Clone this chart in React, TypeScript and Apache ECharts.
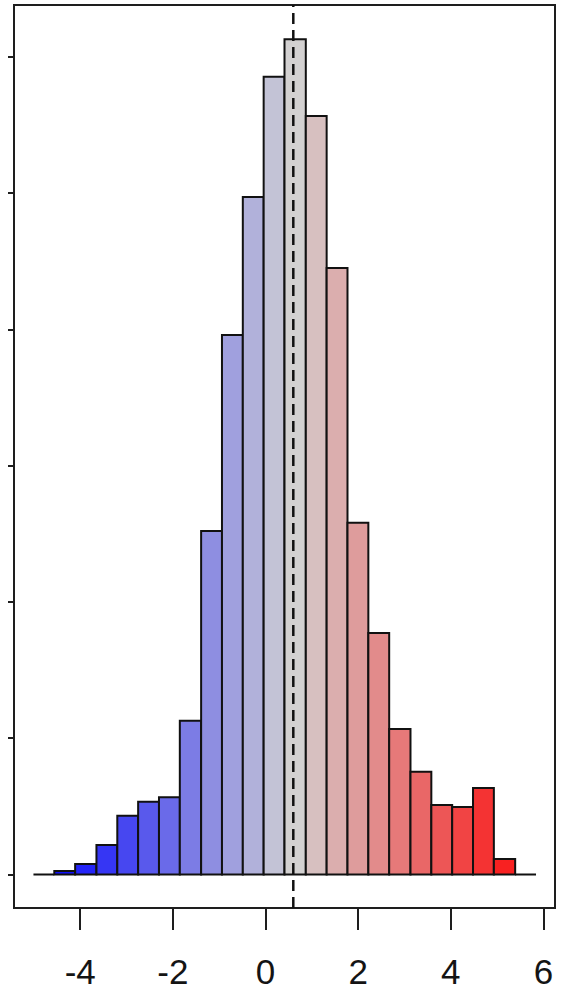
import React, { useEffect, useRef } from "react";
import * as echarts from "echarts";

// Histogram bin edges (x units)
const binEdges = [
  -5.01, -4.56, -4.11, -3.65, -3.2, -2.75, -2.3, -1.85, -1.39, -0.94, -0.49, -0.04,
  0.41, 0.87, 1.32, 1.77, 2.22, 2.67, 3.13, 3.58, 4.03, 4.48, 4.93, 5.39, 5.84,
];
// Bar heights (in y tick units)
const binHeights = [
  0, 0.026, 0.077, 0.216, 0.431, 0.534, 0.566, 1.128, 2.52, 3.958, 4.971, 5.853,
  6.128, 5.565, 4.45, 2.581, 1.772, 1.067, 0.754, 0.51, 0.495, 0.635, 0.114, 0,
];
const meanValue = 0.6;
const xTickValues = [-4, -2, 0, 2, 4, 6];
const yTickValues = [0, 1, 2, 3, 4, 5, 6];

const X_MIN = -5.43;
const X_MAX = 6.25;
const Y_MIN = -0.246;
const Y_MAX = 6.38;

function rampColor(mid: number): string {
  let t = (mid - meanValue) / 5.4;
  if (t > 1) t = 1;
  if (t < -1) t = -1;
  const grey = [211, 211, 211];
  const target = t < 0 ? [0, 0, 255] : [255, 0, 0];
  const a = Math.abs(t);
  const c = grey.map((g, i) => Math.round(g + (target[i] - g) * a));
  return `rgb(${c[0]},${c[1]},${c[2]})`;
}

export default function App() {
  const ref = useRef<HTMLDivElement>(null);
  useEffect(() => {
    if (!ref.current) return;
    const chart = echarts.init(ref.current, undefined, { renderer: "svg" });
    const data = binHeights.map((h, i) => [binEdges[i], binEdges[i + 1], h]);
    const font = "'Liberation Sans', Arial, Helvetica, sans-serif";
    chart.setOption({
      animation: false,
      backgroundColor: "#ffffff",
      grid: {
        left: 14,
        right: 9,
        top: 5,
        bottom: 87,
        show: true,
        borderColor: "#1e1e1e",
        borderWidth: 2,
        backgroundColor: "transparent",
      },
      xAxis: {
        type: "value",
        min: X_MIN,
        max: X_MAX,
        position: "bottom",
        splitLine: { show: false },
        axisLine: { show: true, onZero: false, lineStyle: { color: "#1e1e1e", width: 2 } },
        axisTick: {
          show: true,
          customValues: xTickValues,
          length: 22,
          inside: false,
          lineStyle: { color: "#1e1e1e", width: 2 },
        },
        axisLabel: {
          show: true,
          customValues: xTickValues,
          fontSize: 35,
          margin: 46,
          color: "#141414",
          fontFamily: font,
          formatter: (v: number) => (v < 0 ? "-" + Math.abs(v) : String(v)),
        },
      },
      yAxis: {
        type: "value",
        min: Y_MIN,
        max: Y_MAX,
        splitLine: { show: false },
        axisLine: { show: true, onZero: false, lineStyle: { color: "#1e1e1e", width: 2 } },
        axisTick: {
          show: true,
          customValues: yTickValues,
          length: 6,
          inside: false,
          lineStyle: { color: "#1e1e1e", width: 2 },
        },
        axisLabel: { show: false },
      },
      series: [
        {
          type: "custom",
          data,
          encode: { x: [0, 1], y: 2 },
          renderItem: (params: any, api: any) => {
            const x0 = api.value(0);
            const x1 = api.value(1);
            const h = api.value(2);
            const p1 = api.coord([x0, 0]);
            const p2 = api.coord([x0, h]);
            const p3 = api.coord([x1, h]);
            const p4 = api.coord([x1, 0]);
            return {
              type: "polygon",
              shape: { points: [p1, p2, p3, p4] },
              style: {
                fill: rampColor((x0 + x1) / 2),
                stroke: "#111",
                lineWidth: 2,
              },
            };
          },
        },
        {
          type: "line",
          data: [
            [meanValue, Y_MIN],
            [meanValue, Y_MAX],
          ],
          showSymbol: false,
          symbol: "none",
          lineStyle: { color: "#111", width: 2.5, type: [11, 6] },
          silent: true,
        },
      ],
    });
    return () => chart.dispose();
  }, []);
  return (
    <div
      ref={ref}
      style={{ position: "fixed", left: 0, top: 0, width: 564, height: 995 }}
    />
  );
}
